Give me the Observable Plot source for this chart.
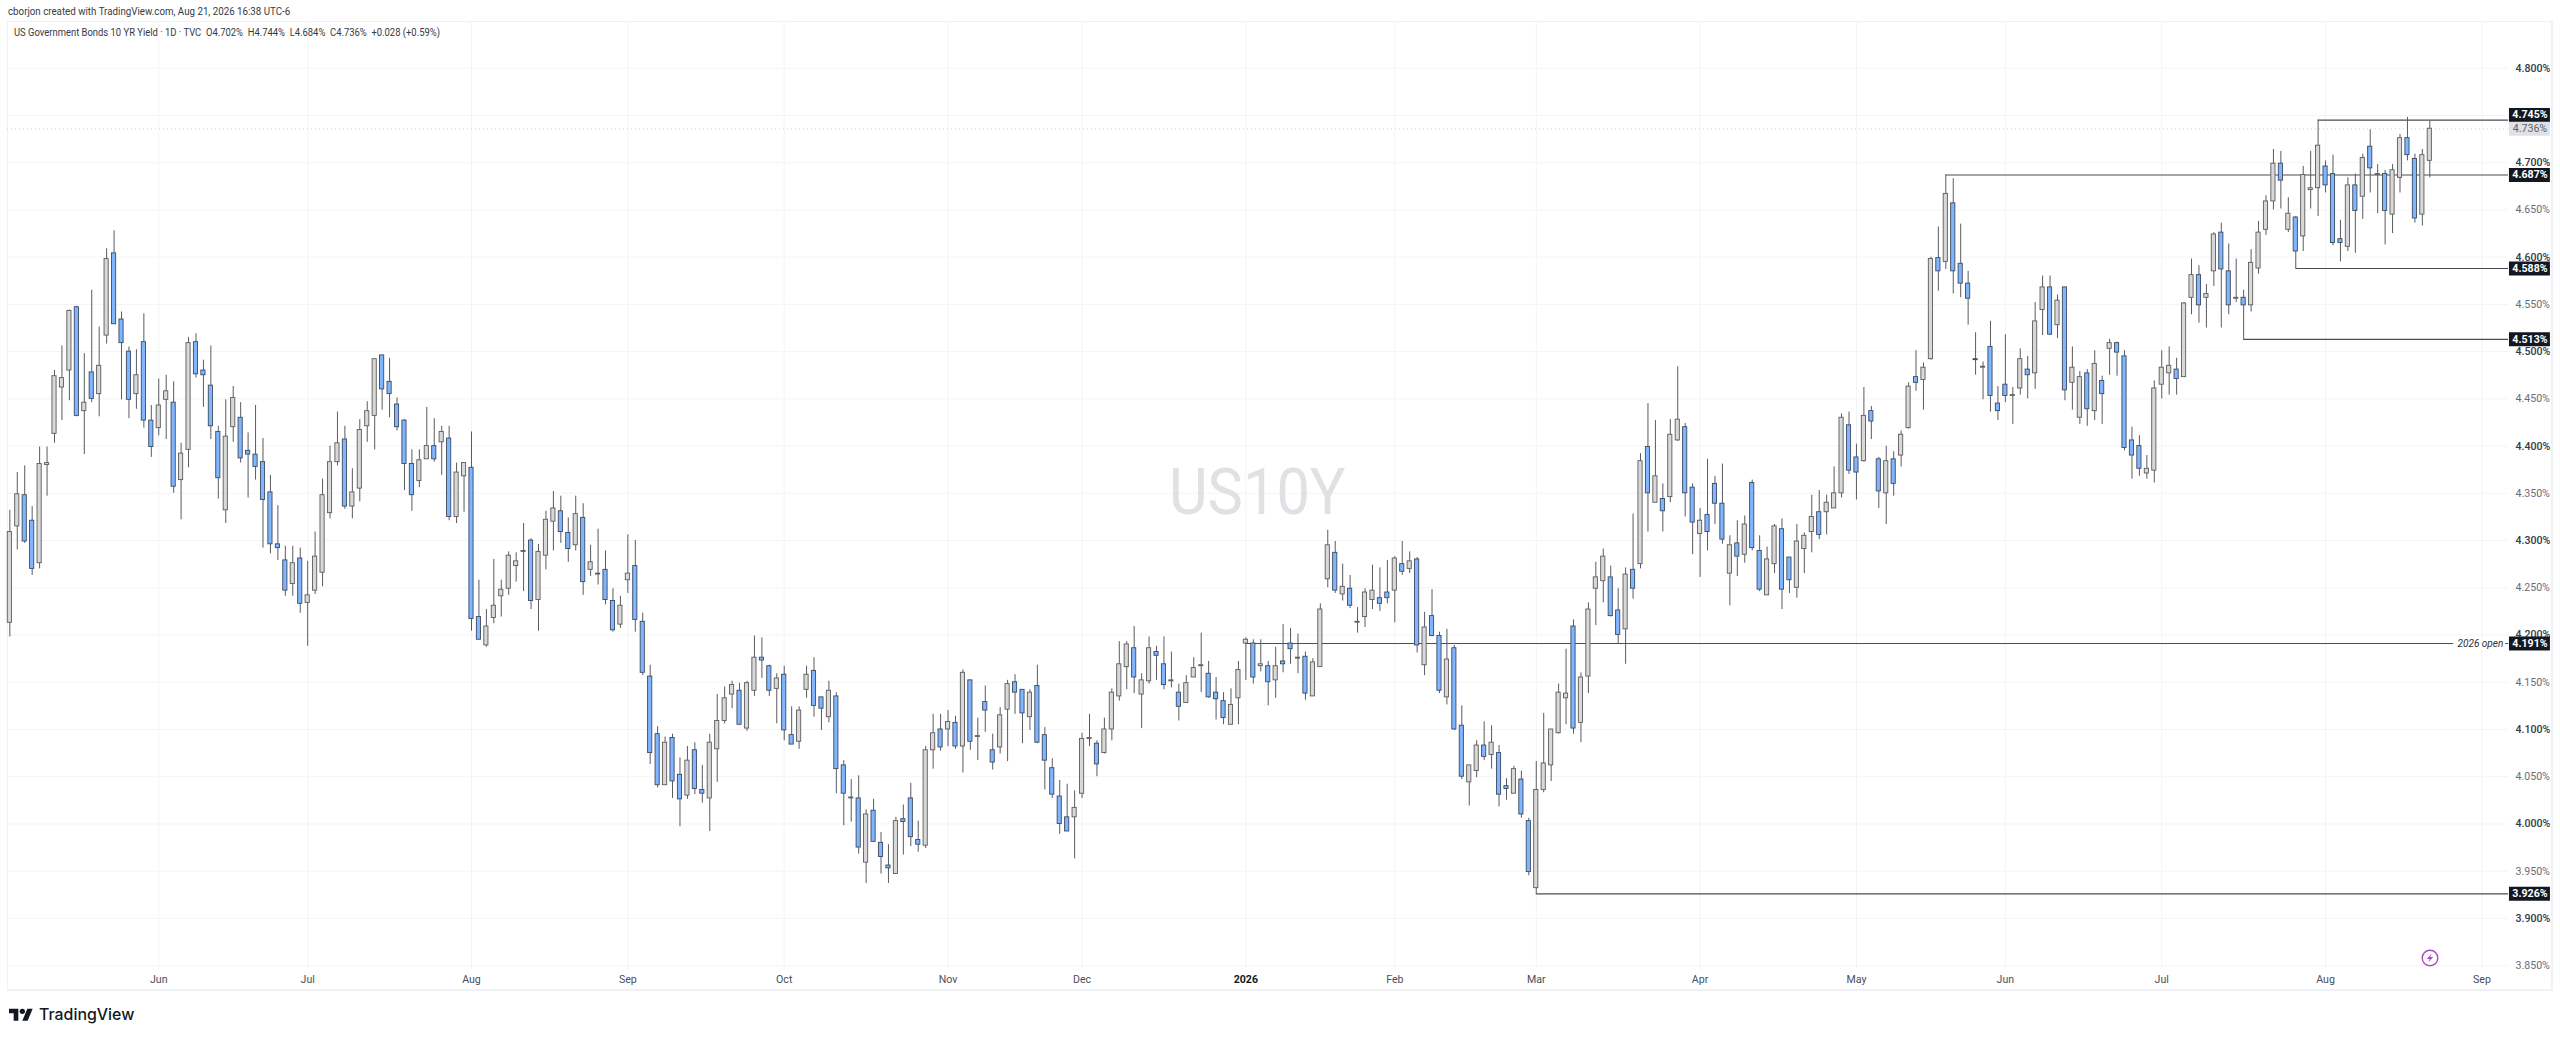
<!DOCTYPE html>
<html><head><meta charset="utf-8">
<script src="https://cdn.jsdelivr.net/npm/d3@7"></script>
<script src="https://cdn.jsdelivr.net/npm/@observablehq/plot@0.6"></script>
<style>
html,body{margin:0;padding:0;background:#fff;width:2560px;height:1039px;overflow:hidden}
body{position:relative;font-family:Roboto,sans-serif;color:#131722}
#plot{position:absolute;left:0;top:21px}
#plot svg{display:block}
.abs{position:absolute;white-space:nowrap}
#frame{position:absolute;left:7px;top:21px;width:2543px;height:967px;border:1px solid #f0f1f4;border-width:1px 2px 2px 1px}
#credit{left:8px;top:5px;font-size:10.6px;line-height:14px;color:#363a45;transform:scaleX(.92);transform-origin:left center}
#legend{left:13.5px;top:26px;font-size:10.6px;line-height:14px;color:#363a45;transform:scaleX(.89);transform-origin:left center}
#mark{left:1169px;top:456px;font-size:64px;line-height:74px;color:#e0e1e4;transform:scaleX(.93);transform-origin:left center}
#brand{left:39px;top:1005px;font-family:Inter,sans-serif;font-weight:500;font-size:15.9px;line-height:20px;color:#131722}
#logo{left:9px;top:1006px}
#bolt{left:2421px;top:949px}
</style></head><body>
<div id="frame"></div>
<div id="plot"></div>
<div class="abs" id="credit">cborjon created with TradingView.com, Aug 21, 2026 16:38 UTC-6</div>
<div class="abs" id="legend">US Government Bonds 10 YR Yield · 1D · TVC &nbsp;O4.702% &nbsp;H4.744% &nbsp;L4.684% &nbsp;C4.736% &nbsp;+0.028 (+0.59%)</div>
<div class="abs" id="mark">US10Y</div>
<svg class="abs" id="logo" width="24" height="18.7" viewBox="0 0 36 28" fill="#131722"><path d="M14 22H7V11H0V4h14v18zM28 22h-8l7.5-18h8L28 22z"/><circle cx="20" cy="8" r="4"/></svg>
<div class="abs" id="brand">TradingView</div>
<svg class="abs" id="bolt" width="18" height="18" viewBox="0 0 18 18"><circle cx="9" cy="9" r="7.8" fill="#fff" stroke="#ab47bc" stroke-width="1.4"/><path d="M10.8 4.4 5.8 10h3L7.2 13.6 12.2 8H9.2z" fill="#ab47bc"/></svg>
<script>
const highs = [
4.332,4.372,4.379,4.336,4.399,4.399,4.480,4.506,4.544,4.548,
4.498,4.565,4.526,4.609,4.628,4.542,4.505,4.502,4.540,4.443,
4.471,4.475,4.468,4.403,4.515,4.519,4.491,4.506,4.421,4.449,
4.463,4.446,4.414,4.443,4.408,4.369,4.337,4.294,4.294,4.292,
4.278,4.309,4.365,4.400,4.436,4.421,4.376,4.428,4.447,4.492,
4.496,4.493,4.451,4.428,4.396,4.396,4.441,4.429,4.421,4.421,
4.382,4.382,4.415,4.258,4.227,4.280,4.258,4.288,4.287,4.318,
4.302,4.296,4.331,4.352,4.347,4.324,4.347,4.339,4.295,4.312,
4.289,4.249,4.241,4.306,4.300,4.223,4.168,4.103,4.092,4.095,
4.070,4.082,4.086,4.062,4.095,4.137,4.145,4.151,4.149,4.151,
4.199,4.197,4.168,4.159,4.167,4.124,4.124,4.167,4.176,4.134,
4.151,4.139,4.067,4.047,4.051,4.015,4.026,3.991,3.978,4.007,
4.020,4.043,4.003,4.082,4.116,4.116,4.120,4.114,4.163,4.152,
4.112,4.146,4.095,4.123,4.152,4.158,4.142,4.142,4.168,4.102,
4.069,4.046,4.042,4.035,4.096,4.116,4.088,4.112,4.143,4.193,
4.193,4.209,4.159,4.198,4.188,4.198,4.182,4.148,4.157,4.176,
4.202,4.172,4.155,4.139,4.143,4.172,4.197,4.195,4.195,4.172,
4.187,4.211,4.207,4.201,4.182,4.175,4.233,4.311,4.299,4.275,
4.263,4.229,4.249,4.274,4.271,4.279,4.283,4.299,4.288,4.282,
4.224,4.248,4.203,4.206,4.189,4.125,4.062,4.088,4.108,4.104,
4.083,4.048,4.061,4.056,4.006,4.066,4.117,4.100,4.148,4.185,
4.216,4.160,4.234,4.277,4.291,4.273,4.249,4.271,4.328,4.392,
4.445,4.427,4.360,4.428,4.484,4.424,4.360,4.334,4.386,4.368,
4.381,4.305,4.321,4.326,4.364,4.305,4.293,4.317,4.323,4.282,
4.317,4.308,4.348,4.353,4.348,4.378,4.434,4.436,4.402,4.462,
4.442,4.388,4.400,4.394,4.416,4.467,4.501,4.488,4.600,4.632,
4.687,4.683,4.635,4.585,4.520,4.489,4.532,4.463,4.518,4.462,
4.503,4.495,4.552,4.580,4.580,4.560,4.568,4.505,4.479,4.481,
4.501,4.474,4.513,4.510,4.501,4.420,4.411,4.390,4.469,4.501,
4.505,4.493,4.552,4.598,4.591,4.571,4.626,4.636,4.614,4.598,
4.565,4.608,4.638,4.665,4.714,4.712,4.663,4.643,4.696,4.712,
4.745,4.702,4.708,4.639,4.684,4.688,4.709,4.735,4.698,4.692,
4.698,4.730,4.748,4.709,4.714,4.744];
const bodyTops = [
4.309,4.349,4.348,4.321,4.381,4.382,4.474,4.472,4.543,4.547,
4.446,4.478,4.485,4.598,4.604,4.534,4.500,4.475,4.510,4.427,
4.443,4.458,4.446,4.392,4.509,4.510,4.480,4.464,4.415,4.410,
4.451,4.430,4.395,4.391,4.383,4.351,4.296,4.279,4.276,4.281,
4.242,4.283,4.348,4.383,4.403,4.407,4.351,4.417,4.437,4.492,
4.496,4.468,4.444,4.427,4.381,4.385,4.400,4.400,4.415,4.408,
4.372,4.382,4.377,4.219,4.209,4.231,4.248,4.284,4.278,4.289,
4.300,4.288,4.322,4.334,4.331,4.308,4.328,4.324,4.277,4.265,
4.269,4.236,4.231,4.265,4.273,4.214,4.156,4.095,4.086,4.091,
4.052,4.067,4.078,4.036,4.086,4.109,4.133,4.147,4.141,4.149,
4.176,4.176,4.167,4.154,4.158,4.094,4.120,4.158,4.162,4.134,
4.141,4.135,4.062,4.028,4.027,4.010,4.014,3.980,3.956,4.003,
4.005,4.027,3.983,4.078,4.096,4.100,4.108,4.107,4.160,4.152,
4.093,4.129,4.078,4.115,4.148,4.150,4.142,4.139,4.146,4.094,
4.059,4.029,4.007,4.017,4.090,4.091,4.085,4.100,4.139,4.169,
4.190,4.186,4.152,4.186,4.182,4.169,4.152,4.139,4.149,4.165,
4.168,4.159,4.139,4.130,4.126,4.163,4.195,4.191,4.169,4.167,
4.167,4.172,4.191,4.176,4.177,4.171,4.227,4.295,4.287,4.251,
4.249,4.214,4.245,4.247,4.239,4.245,4.281,4.275,4.278,4.280,
4.208,4.220,4.199,4.174,4.186,4.104,4.062,4.083,4.083,4.086,
4.075,4.040,4.058,4.047,4.003,4.036,4.064,4.100,4.139,4.138,
4.209,4.155,4.227,4.261,4.283,4.261,4.226,4.264,4.269,4.384,
4.399,4.368,4.344,4.412,4.428,4.420,4.356,4.321,4.327,4.360,
4.339,4.295,4.297,4.317,4.361,4.289,4.280,4.315,4.312,4.282,
4.299,4.305,4.325,4.330,4.340,4.350,4.430,4.422,4.388,4.432,
4.437,4.386,4.384,4.386,4.412,4.463,4.473,4.483,4.598,4.599,
4.667,4.657,4.593,4.572,4.492,4.484,4.505,4.445,4.465,4.454,
4.492,4.481,4.532,4.568,4.568,4.554,4.568,4.483,4.473,4.477,
4.487,4.469,4.509,4.509,4.495,4.406,4.400,4.376,4.461,4.483,
4.485,4.481,4.551,4.581,4.581,4.561,4.624,4.626,4.585,4.557,
4.557,4.594,4.626,4.659,4.699,4.699,4.646,4.642,4.687,4.673,
4.718,4.696,4.688,4.619,4.676,4.676,4.705,4.717,4.688,4.688,
4.692,4.726,4.726,4.704,4.708,4.736];
const bodyBottoms = [
4.213,4.315,4.299,4.270,4.276,4.380,4.413,4.462,4.480,4.432,
4.437,4.450,4.455,4.517,4.529,4.509,4.449,4.455,4.427,4.399,
4.419,4.449,4.357,4.364,4.396,4.476,4.475,4.421,4.366,4.332,
4.420,4.387,4.391,4.378,4.343,4.296,4.292,4.247,4.254,4.233,
4.234,4.247,4.266,4.329,4.383,4.336,4.336,4.355,4.421,4.432,
4.460,4.455,4.420,4.381,4.348,4.363,4.386,4.386,4.404,4.325,
4.325,4.368,4.217,4.195,4.189,4.218,4.241,4.249,4.273,4.288,
4.236,4.237,4.284,4.320,4.309,4.291,4.295,4.256,4.269,4.264,
4.237,4.205,4.211,4.258,4.216,4.160,4.075,4.041,4.041,4.045,
4.026,4.030,4.037,4.032,4.027,4.079,4.109,4.137,4.105,4.101,
4.141,4.173,4.141,4.143,4.099,4.084,4.087,4.142,4.125,4.122,
4.113,4.058,4.032,4.027,3.975,3.959,3.981,3.965,3.953,3.947,
4.002,3.986,3.978,3.977,4.078,4.081,4.100,4.082,4.082,4.087,
4.092,4.120,4.065,4.081,4.121,4.139,4.117,4.113,4.086,4.067,
4.031,4.000,3.992,4.007,4.032,4.090,4.063,4.075,4.100,4.135,
4.166,4.155,4.137,4.151,4.178,4.147,4.151,4.124,4.128,4.155,
4.167,4.134,4.132,4.112,4.105,4.133,4.191,4.155,4.167,4.150,
4.152,4.169,4.185,4.175,4.138,4.135,4.166,4.259,4.247,4.243,
4.231,4.213,4.219,4.237,4.233,4.239,4.247,4.267,4.270,4.189,
4.168,4.199,4.141,4.134,4.100,4.050,4.044,4.056,4.071,4.073,
4.031,4.037,4.032,4.010,3.949,3.932,4.036,4.062,4.096,4.133,
4.101,4.107,4.156,4.249,4.257,4.220,4.200,4.206,4.249,4.275,
4.350,4.340,4.331,4.346,4.406,4.350,4.319,4.307,4.309,4.339,
4.301,4.265,4.283,4.285,4.292,4.248,4.242,4.275,4.248,4.258,
4.250,4.291,4.309,4.306,4.330,4.334,4.350,4.374,4.372,4.384,
4.426,4.352,4.350,4.360,4.390,4.419,4.467,4.470,4.492,4.585,
4.595,4.585,4.572,4.556,4.491,4.483,4.453,4.437,4.453,4.453,
4.461,4.475,4.477,4.544,4.518,4.528,4.459,4.467,4.430,4.439,
4.437,4.455,4.503,4.499,4.398,4.390,4.376,4.371,4.374,4.465,
4.477,4.471,4.473,4.557,4.549,4.557,4.585,4.587,4.549,4.556,
4.549,4.549,4.588,4.629,4.659,4.681,4.629,4.606,4.622,4.671,
4.673,4.676,4.615,4.615,4.611,4.649,4.664,4.694,4.687,4.649,
4.645,4.684,4.708,4.641,4.645,4.702];
const lows = [
4.198,4.290,4.297,4.263,4.270,4.347,4.403,4.427,4.448,4.431,
4.391,4.446,4.431,4.508,4.529,4.449,4.429,4.439,4.419,4.388,
4.411,4.407,4.350,4.322,4.377,4.472,4.441,4.407,4.344,4.318,
4.404,4.382,4.345,4.364,4.292,4.286,4.279,4.241,4.241,4.223,
4.188,4.243,4.251,4.323,4.379,4.333,4.323,4.341,4.404,4.396,
4.438,4.430,4.416,4.353,4.331,4.356,4.386,4.383,4.369,4.321,
4.318,4.330,4.204,4.195,4.187,4.212,4.219,4.242,4.256,4.246,
4.227,4.204,4.269,4.289,4.297,4.277,4.289,4.242,4.262,4.253,
4.232,4.203,4.207,4.244,4.203,4.157,4.063,4.038,4.041,4.027,
3.997,4.026,4.031,4.022,3.992,4.044,4.106,4.122,4.105,4.098,
4.135,4.154,4.135,4.106,4.088,4.084,4.079,4.133,4.113,4.099,
4.107,4.032,3.998,4.002,3.968,3.937,3.981,3.947,3.937,3.947,
3.967,3.976,3.970,3.974,4.058,4.077,4.082,4.079,4.054,4.078,
4.067,4.097,4.057,4.074,4.066,4.116,4.085,4.099,4.085,4.036,
4.027,3.989,3.992,3.963,4.027,4.082,4.050,4.074,4.088,4.130,
4.142,4.138,4.101,4.148,4.152,4.142,4.144,4.109,4.128,4.155,
4.139,4.133,4.110,4.105,4.105,4.105,4.152,4.148,4.161,4.125,
4.133,4.160,4.169,4.159,4.131,4.135,4.166,4.250,4.244,4.236,
4.228,4.202,4.208,4.227,4.225,4.233,4.213,4.263,4.265,4.181,
4.157,4.198,4.138,4.126,4.099,4.047,4.019,4.049,4.067,4.058,
4.018,4.025,4.032,4.006,3.945,3.926,4.033,4.045,4.095,4.105,
4.095,4.086,4.138,4.210,4.234,4.219,4.191,4.169,4.238,4.270,
4.309,4.340,4.309,4.340,4.405,4.325,4.285,4.261,4.289,4.317,
4.296,4.231,4.262,4.276,4.289,4.246,4.242,4.265,4.227,4.244,
4.239,4.265,4.287,4.301,4.306,4.334,4.345,4.370,4.343,4.383,
4.407,4.334,4.317,4.347,4.378,4.418,4.458,4.438,4.491,4.564,
4.587,4.561,4.557,4.528,4.475,4.449,4.436,4.427,4.446,4.423,
4.454,4.450,4.460,4.517,4.517,4.514,4.448,4.438,4.423,4.421,
4.427,4.423,4.475,4.474,4.395,4.365,4.368,4.365,4.361,4.450,
4.454,4.454,4.473,4.539,4.530,4.525,4.569,4.525,4.539,4.552,
4.513,4.542,4.582,4.623,4.650,4.651,4.626,4.588,4.606,4.651,
4.643,4.668,4.612,4.595,4.606,4.604,4.640,4.668,4.646,4.613,
4.625,4.668,4.702,4.636,4.633,4.684];
const directions = (
"UUDDUUUUUD"+"UDUUDDDUDD"+"UUDUUDDDDU"+"UDDDDDDDUD"+"UUUUUDUUUU"+
"DDDDDUUDUD"+"UUDDUUUUUU"+"DUUUDDUDUU"+"DDUUDDDDUD"+"DUDDUUUUDU"+
"UDDUDDUUDD"+"UDDUDUDDDU"+"DDDUUDUDUD"+"UDDUUDDUDD"+"DDDUUUDUUU"+
"UDUUDDUDUU"+"UDDDUUUDUD"+"UDDUDUUUDU"+"DUUUDDUDUD"+"UDDUDDUUDU"+
"DDUDDUUUUU"+"DUUUUDDUDU"+"DUDUUDDUDD"+"DUDUDDUUDD"+"UUUDUUUDDU"+
"DDUDUUDUUD"+"UDDDDUDDDU"+"UDUUDUDUUD"+"UDUDDDDUUU"+"UDUUDUUDDU"+
"DUUUUDUDUU"+"UDDDUDUDUD"+"UUDDUU").split("");
const monthBars   = [20,40,62,83,104,126,144,166,186,205,227,248,268,289,311,332];
const monthLabels = ["Jun","Jul","Aug","Sep","Oct","Nov","Dec","2026","Feb","Mar","Apr","May","Jun","Jul","Aug","Sep"];
const yieldTicks = [3.85,3.9,3.95,4,4.05,4.1,4.15,4.2,4.25,4.3,4.35,4.4,4.45,4.5,4.55,4.6,4.65,4.7,4.75,4.8];
const levelValues = [4.745,4.687,4.588,4.513,4.191,3.926];
const levelStarts = [310,260,307,300,166,205];
const levelTagAt  = [4.7506,4.687,4.588,4.513,4.191,3.926];
const lastPrice = 4.736;
const openLabel = "2026 open";

const bars = highs.map((h,i)=>({i,h,l:lows[i],t:bodyTops[i],b:bodyBottoms[i],d:directions[i]}));
const levels = levelValues.map((v,k)=>({v,s:levelStarts[k],at:levelTagAt[k],txt:v.toFixed(3)+"%"}));
const barHalf = 0.28, chartEnd = 335.57, tagFrom = 335.7, tagTo = 341.2;
const isMajor = v => Math.abs(v*10-Math.round(v*10))<1e-6;
const font = "Roboto, sans-serif";

const chart = Plot.plot({
  width:2560,height:969,marginLeft:7,marginRight:52,marginTop:0,marginBottom:21,
  style:{background:"transparent",fontFamily:font,overflow:"visible"},
  x:{type:"linear",domain:[-0.313,chartEnd],axis:null},
  y:{type:"linear",domain:[3.8459,4.8495],axis:null},
  marks:[
    Plot.ruleY(yieldTicks,{stroke:"#f3f4f6",strokeWidth:1}),
    Plot.ruleX(monthBars,{stroke:"#f3f4f6",strokeWidth:1}),
    Plot.ruleY([lastPrice],{stroke:"#d4d6db",strokeWidth:1,strokeDasharray:"1 3"}),
    Plot.axisY(yieldTicks.filter(v=>!isMajor(v)),{anchor:"right",tickSize:0,tickPadding:7,label:null,
      tickFormat:v=>v.toFixed(3)+"%",fontSize:10.6,fill:"#6a6d78"}),
    Plot.axisY(yieldTicks.filter(isMajor),{anchor:"right",tickSize:0,tickPadding:7,label:null,
      tickFormat:v=>v.toFixed(3)+"%",fontSize:10.6,fill:"#363a45",fontWeight:500}),
    Plot.axisX(monthBars.filter(i=>monthLabels[monthBars.indexOf(i)]!=="2026"),{anchor:"bottom",tickSize:0,tickPadding:6,label:null,
      tickFormat:i=>monthLabels[monthBars.indexOf(i)],fontSize:10.6,fill:"#4a4e59"}),
    Plot.axisX(monthBars.filter(i=>monthLabels[monthBars.indexOf(i)]==="2026"),{anchor:"bottom",tickSize:0,tickPadding:6,label:null,
      tickFormat:i=>monthLabels[monthBars.indexOf(i)],fontSize:10.6,fontWeight:700,fill:"#131722"}),
    Plot.ruleY(levels.filter(d=>d.txt!=="4.191%"),{y:"v",x1:"s",x2:()=>chartEnd,stroke:"#4a4d55",strokeWidth:1.2}),
    Plot.ruleY(levels.filter(d=>d.txt==="4.191%"),{y:"v",x1:"s",x2:()=>328.2,stroke:"#4a4d55",strokeWidth:1}),
    Plot.ruleY(levels.filter(d=>d.txt==="4.191%"),{y:"v",x1:()=>335.2,x2:()=>chartEnd,stroke:"#4a4d55",strokeWidth:1}),
    Plot.text(levels.filter(d=>d.txt==="4.191%"),{y:"v",x:()=>331.8,text:()=>openLabel,fontSize:10,fontStyle:"italic",fill:"#2a2e39"}),
    Plot.ruleX(bars,{x:"i",y1:"l",y2:"h",stroke:"#5a5b60",strokeWidth:1}),
    Plot.rect(bars,{x1:d=>d.i-barHalf,x2:d=>d.i+barHalf,y1:"b",y2:"t",
      fill:d=>d.d==="U"?"#d8d8d8":"#7fb6ff",stroke:d=>d.d==="U"?"#5c5c5c":"#3d4a60",strokeWidth:0.9}),
    Plot.ruleY(levels,{y:"at",x1:()=>tagFrom,x2:()=>tagTo,stroke:"#131722",strokeWidth:14}),
    Plot.text(levels,{y:"at",x:()=>(tagFrom+tagTo)/2,text:"txt",fill:"#fff",fontSize:10.6,fontWeight:700}),
    Plot.ruleY([lastPrice],{x1:()=>tagFrom,x2:()=>tagTo,stroke:"#e0e1e4",strokeWidth:14}),
    Plot.text([lastPrice],{y:d=>d,x:()=>(tagFrom+tagTo)/2,text:d=>d.toFixed(3)+"%",fill:"#5d606b",fontSize:10.6})
  ]
});
document.getElementById("plot").appendChild(chart);
</script>
</body></html>
